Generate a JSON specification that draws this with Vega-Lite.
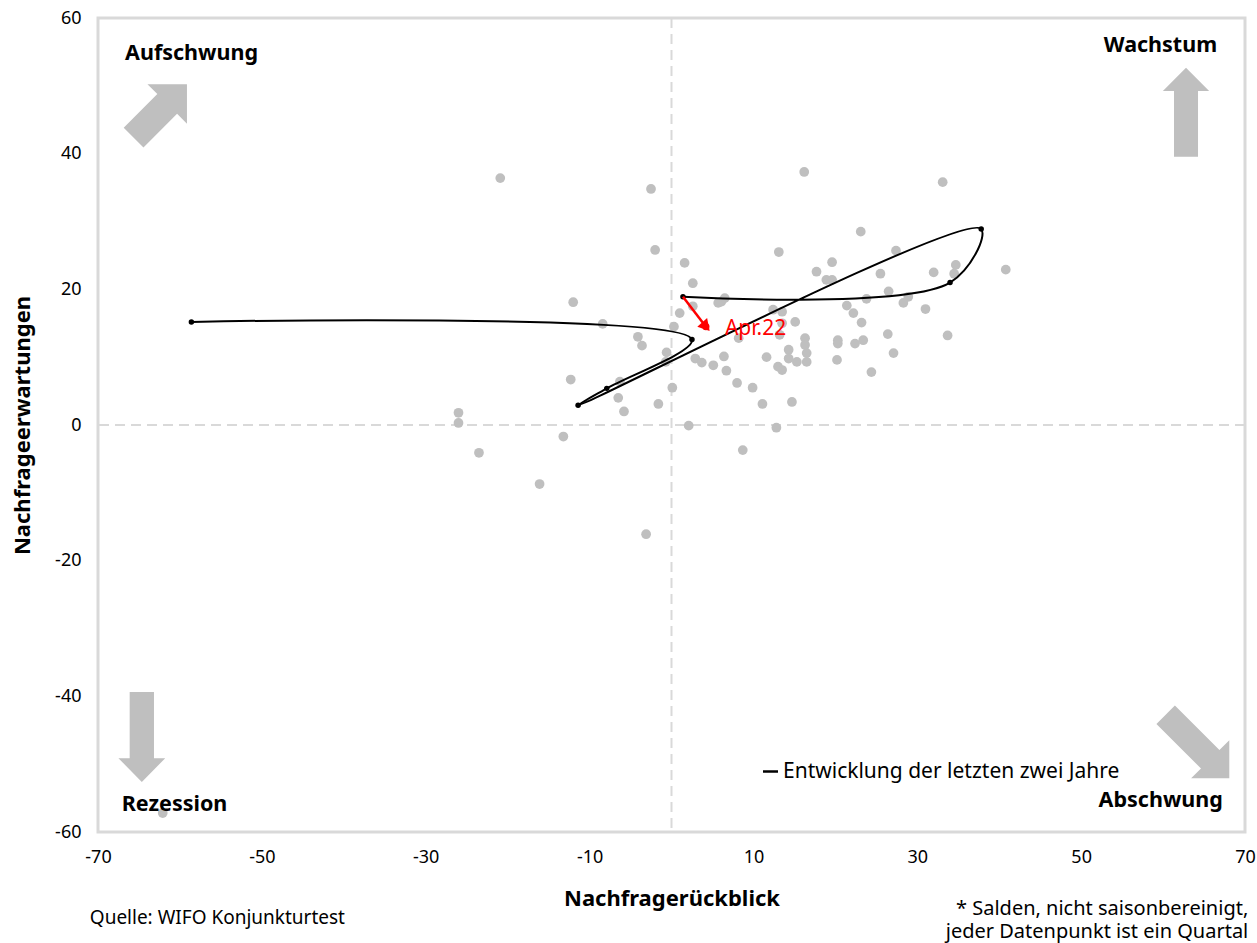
{
  "$schema": "https://vega.github.io/schema/vega-lite/v6.json",
  "width": 1147,
  "height": 814,
  "autosize": {"type": "none"},
  "padding": {"left": 98, "top": 18, "right": 12, "bottom": 111},
  "background": "white",
  "config": {
    "font": "Noto Sans",
    "view": {"stroke": "#d9d9d9", "strokeWidth": 3}
  },
  "datasets": {
    "points": [
      {"x": -20.9, "y": 36.4}, {"x": -2.5, "y": 34.8}, {"x": -2.0, "y": 25.8}, {"x": 1.6, "y": 23.9},
      {"x": 2.6, "y": 20.9}, {"x": -12.0, "y": 18.1}, {"x": 2.6, "y": 17.5}, {"x": 5.7, "y": 18.0},
      {"x": 1.0, "y": 16.5}, {"x": -8.4, "y": 14.9}, {"x": 0.3, "y": 14.5}, {"x": -4.1, "y": 13.0},
      {"x": -3.6, "y": 11.7}, {"x": -0.6, "y": 10.7}, {"x": -0.7, "y": 9.3}, {"x": 2.9, "y": 9.8},
      {"x": 3.7, "y": 9.2}, {"x": 5.1, "y": 8.8}, {"x": -12.3, "y": 6.7}, {"x": -6.3, "y": 6.4},
      {"x": 0.1, "y": 5.5}, {"x": -6.5, "y": 4.0}, {"x": -5.8, "y": 2.0}, {"x": -1.6, "y": 3.1},
      {"x": 2.1, "y": -0.1}, {"x": 8.0, "y": 6.2}, {"x": 9.9, "y": 5.5}, {"x": 11.1, "y": 3.1},
      {"x": 14.7, "y": 3.4}, {"x": 12.8, "y": -0.4}, {"x": 8.7, "y": -3.7}, {"x": -26.0, "y": 1.8},
      {"x": -26.0, "y": 0.3}, {"x": -23.5, "y": -4.1}, {"x": -13.2, "y": -1.7}, {"x": -16.1, "y": -8.7},
      {"x": -3.1, "y": -16.1}, {"x": 16.2, "y": 37.3}, {"x": 33.1, "y": 35.8}, {"x": 23.1, "y": 28.5},
      {"x": 13.1, "y": 25.5}, {"x": 27.4, "y": 25.7}, {"x": 19.6, "y": 24.0}, {"x": 17.7, "y": 22.6},
      {"x": 18.9, "y": 21.4}, {"x": 19.6, "y": 21.4}, {"x": 34.7, "y": 23.6}, {"x": 32.0, "y": 22.5},
      {"x": 34.5, "y": 22.3}, {"x": 40.8, "y": 22.9}, {"x": 25.5, "y": 22.3}, {"x": 26.5, "y": 19.7},
      {"x": 23.8, "y": 18.6}, {"x": 28.3, "y": 18.0}, {"x": 28.9, "y": 18.9}, {"x": 31.0, "y": 17.1},
      {"x": 21.4, "y": 17.6}, {"x": 22.2, "y": 16.5}, {"x": 23.2, "y": 15.1}, {"x": 26.4, "y": 13.4},
      {"x": 33.7, "y": 13.2}, {"x": 27.1, "y": 10.6}, {"x": 24.4, "y": 7.8}, {"x": 20.3, "y": 12.5},
      {"x": 20.3, "y": 12.0}, {"x": 22.4, "y": 12.0}, {"x": 23.4, "y": 12.5}, {"x": 20.2, "y": 9.6},
      {"x": 16.3, "y": 12.8}, {"x": 16.3, "y": 11.8}, {"x": 16.5, "y": 10.6}, {"x": 16.5, "y": 9.3},
      {"x": 15.1, "y": 15.2}, {"x": 13.5, "y": 15.0}, {"x": 12.4, "y": 17.0}, {"x": 13.5, "y": 16.7},
      {"x": 14.3, "y": 11.1}, {"x": 14.3, "y": 9.8}, {"x": 15.3, "y": 9.3}, {"x": 13.2, "y": 13.3},
      {"x": 11.6, "y": 10.0}, {"x": 13.0, "y": 8.6}, {"x": 13.5, "y": 8.1}, {"x": 6.1, "y": 18.2},
      {"x": 6.5, "y": 18.7}, {"x": 8.2, "y": 12.8}, {"x": 6.4, "y": 10.1}, {"x": 6.7, "y": 8.0},
      {"x": -62.1, "y": -57.2}
    ],
    "path": [
      {"order": 1, "x": -58.6, "y": 15.2},
      {"order": 2, "x": 2.5, "y": 12.6},
      {"order": 3, "x": -7.9, "y": 5.4},
      {"order": 4, "x": -11.4, "y": 2.9},
      {"order": 5, "x": 37.8, "y": 28.9},
      {"order": 6, "x": 34.0, "y": 21.0},
      {"order": 7, "x": 1.4, "y": 18.9},
      {"order": 8, "x": 4.2, "y": 14.5, "label": "Apr.22"}
    ],
    "arrows": [
      {"name": "Aufschwung", "x": -62.4, "y": 46.3},
      {"name": "Wachstum", "x": 62.8, "y": 46.1},
      {"name": "Rezession", "x": -64.65, "y": -46.0},
      {"name": "Abschwung", "x": 64.2, "y": -47.4}
    ],
    "labelsLeft": [
      {"text": "Aufschwung", "x": -66.7, "y": 54.7},
      {"text": "Rezession", "x": -67.1, "y": -56.0}
    ],
    "labelsRight": [
      {"text": "Wachstum", "x": 66.6, "y": 55.8},
      {"text": "Abschwung", "x": 67.3, "y": -55.5}
    ],
    "notesLeft": [
      {"text": "Quelle: WIFO Konjunkturtest", "x": -71.0, "y": -72.7}
    ],
    "notesRight": [
      {"text": "* Salden, nicht saisonbereinigt,\njeder Datenpunkt ist ein Quartal", "x": 70.4, "y": -71.4}
    ]
  },
  "layer": [
    {
      "data": {"values": [{"x": 0}]},
      "mark": {"type": "rule", "color": "#d9d9d9", "strokeWidth": 2, "strokeDash": [10, 6]},
      "encoding": {"x": {"field": "x", "type": "quantitative"}}
    },
    {
      "data": {"values": [{"y": 0}]},
      "mark": {"type": "rule", "color": "#d9d9d9", "strokeWidth": 2, "strokeDash": [10, 6]},
      "encoding": {"y": {"field": "y", "type": "quantitative"}}
    },
    {
      "data": {"name": "points"},
      "mark": {"type": "circle", "color": "#bfbfbf", "opacity": 1, "size": 95},
      "encoding": {
        "x": {
          "field": "x", "type": "quantitative",
          "scale": {"domain": [-70, 70], "nice": false, "zero": false},
          "axis": {
            "values": [-70, -50, -30, -10, 10, 30, 50, 70],
            "title": "Nachfragerückblick",
            "grid": false, "domain": false, "ticks": false,
            "labelPadding": 16, "labelFontSize": 18, "labelColor": "#000",
            "labelFlush": false, "labelOverlap": false,
            "labelExpr": "'' + datum.value",
            "titleFontSize": 22, "titleFontWeight": "bold", "titleColor": "#000", "titlePadding": 22
          }
        },
        "y": {
          "field": "y", "type": "quantitative",
          "scale": {"domain": [-60, 60], "nice": false, "zero": false},
          "axis": {
            "values": [-60, -40, -20, 0, 20, 40, 60],
            "title": "Nachfrageerwartungen",
            "grid": false, "domain": false, "ticks": false,
            "labelPadding": 17, "labelFontSize": 18, "labelColor": "#000",
            "labelFlush": false, "labelOverlap": false,
            "labelExpr": "'' + datum.value",
            "titleFontSize": 22, "titleFontWeight": "bold", "titleColor": "#000", "titlePadding": 20
          }
        }
      }
    },
    {
      "data": {"name": "arrows"},
      "transform": [{"filter": "datum.name == 'Aufschwung'"}],
      "mark": {"type": "point", "filled": true, "color": "#bfbfbf", "opacity": 1, "strokeWidth": 0, "angle": 45, "size": 5700,
        "shape": "M -0.37 1 L -0.37 -0.26 L -0.74 -0.26 L 0 -1 L 0.74 -0.26 L 0.37 -0.26 L 0.37 1 Z"},
      "encoding": {
        "x": {"field": "x", "type": "quantitative"},
        "y": {"field": "y", "type": "quantitative"}
      }
    },
    {
      "data": {"name": "arrows"},
      "transform": [{"filter": "datum.name == 'Wachstum'"}],
      "mark": {"type": "point", "filled": true, "color": "#bfbfbf", "opacity": 1, "strokeWidth": 0, "angle": 0, "size": 7921,
        "shape": "M -0.27 1 L -0.27 -0.48 L -0.52 -0.48 L 0 -1 L 0.52 -0.48 L 0.27 -0.48 L 0.27 1 Z"},
      "encoding": {
        "x": {"field": "x", "type": "quantitative"},
        "y": {"field": "y", "type": "quantitative"}
      }
    },
    {
      "data": {"name": "arrows"},
      "transform": [{"filter": "datum.name == 'Rezession'"}],
      "mark": {"type": "point", "filled": true, "color": "#bfbfbf", "opacity": 1, "strokeWidth": 0, "angle": 180, "size": 8100,
        "shape": "M -0.27 1 L -0.27 -0.47 L -0.52 -0.47 L 0 -1 L 0.52 -0.47 L 0.27 -0.47 L 0.27 1 Z"},
      "encoding": {
        "x": {"field": "x", "type": "quantitative"},
        "y": {"field": "y", "type": "quantitative"}
      }
    },
    {
      "data": {"name": "arrows"},
      "transform": [{"filter": "datum.name == 'Abschwung'"}],
      "mark": {"type": "point", "filled": true, "color": "#bfbfbf", "opacity": 1, "strokeWidth": 0, "angle": 135, "size": 8100,
        "shape": "M -0.29 1 L -0.29 -0.4 L -0.6 -0.4 L 0 -1 L 0.6 -0.4 L 0.29 -0.4 L 0.29 1 Z"},
      "encoding": {
        "x": {"field": "x", "type": "quantitative"},
        "y": {"field": "y", "type": "quantitative"}
      }
    },
    {
      "data": {"name": "path"},
      "transform": [{"filter": "datum.order <= 7"}],
      "mark": {"type": "line", "strokeWidth": 2, "interpolate": "catmull-rom"},
      "encoding": {
        "x": {"field": "x", "type": "quantitative"},
        "y": {"field": "y", "type": "quantitative"},
        "order": {"field": "order", "type": "quantitative"},
        "color": {
          "datum": "Entwicklung der letzten zwei Jahre",
          "scale": {"range": ["#000000"]},
          "legend": {
            "orient": "none", "legendX": 662, "legendY": 743, "title": null,
            "symbolType": "stroke", "symbolSize": 225, "symbolStrokeWidth": 2.5,
            "labelFontSize": 21, "labelColor": "#000", "labelOffset": 2, "labelLimit": 0, "padding": 0
          }
        }
      }
    },
    {
      "data": {"name": "path"},
      "transform": [{"filter": "datum.order <= 7"}],
      "mark": {"type": "circle", "color": "#000000", "opacity": 1, "size": 30},
      "encoding": {
        "x": {"field": "x", "type": "quantitative"},
        "y": {"field": "y", "type": "quantitative"}
      }
    },
    {
      "data": {"name": "path"},
      "transform": [{"filter": "datum.order >= 7"}],
      "mark": {"type": "line", "color": "#ff0000", "strokeWidth": 2.5},
      "encoding": {
        "x": {"field": "x", "type": "quantitative"},
        "y": {"field": "y", "type": "quantitative"},
        "order": {"field": "order", "type": "quantitative"}
      }
    },
    {
      "data": {"name": "path"},
      "transform": [{"filter": "datum.order == 8"}],
      "mark": {"type": "point", "shape": "triangle-up", "filled": true, "color": "#ff0000", "opacity": 1, "size": 170, "angle": 139},
      "encoding": {
        "x": {"field": "x", "type": "quantitative"},
        "y": {"field": "y", "type": "quantitative"}
      }
    },
    {
      "data": {"name": "path"},
      "transform": [{"filter": "datum.order == 8"}],
      "mark": {"type": "circle", "color": "#ff0000", "opacity": 1, "size": 50},
      "encoding": {
        "x": {"field": "x", "type": "quantitative"},
        "y": {"field": "y", "type": "quantitative"}
      }
    },
    {
      "data": {"name": "path"},
      "transform": [{"filter": "datum.order == 8"}],
      "mark": {"type": "text", "color": "#ff0000", "fontSize": 21, "align": "left", "baseline": "middle", "dx": 19, "dy": 2},
      "encoding": {
        "x": {"field": "x", "type": "quantitative"},
        "y": {"field": "y", "type": "quantitative"},
        "text": {"field": "label"}
      }
    },
    {
      "data": {"name": "labelsLeft"},
      "mark": {"type": "text", "color": "#000", "fontSize": 21.5, "fontWeight": "bold", "align": "left", "baseline": "middle"},
      "encoding": {
        "x": {"field": "x", "type": "quantitative"},
        "y": {"field": "y", "type": "quantitative"},
        "text": {"field": "text"}
      }
    },
    {
      "data": {"name": "labelsRight"},
      "mark": {"type": "text", "color": "#000", "fontSize": 21.5, "fontWeight": "bold", "align": "right", "baseline": "middle"},
      "encoding": {
        "x": {"field": "x", "type": "quantitative"},
        "y": {"field": "y", "type": "quantitative"},
        "text": {"field": "text"}
      }
    },
    {
      "data": {"name": "notesLeft"},
      "mark": {"type": "text", "color": "#000", "fontSize": 19, "align": "left", "baseline": "middle"},
      "encoding": {
        "x": {"field": "x", "type": "quantitative"},
        "y": {"field": "y", "type": "quantitative"},
        "text": {"field": "text"}
      }
    },
    {
      "data": {"name": "notesRight"},
      "mark": {"type": "text", "color": "#000", "fontSize": 20, "align": "right", "baseline": "middle", "lineBreak": "\n", "lineHeight": 23},
      "encoding": {
        "x": {"field": "x", "type": "quantitative"},
        "y": {"field": "y", "type": "quantitative"},
        "text": {"field": "text"}
      }
    }
  ]
}
